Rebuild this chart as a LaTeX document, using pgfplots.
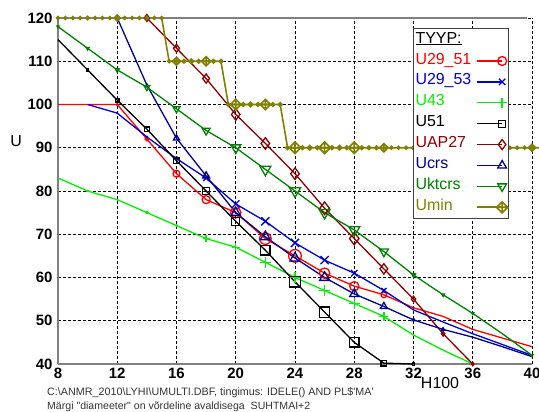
\documentclass[border=0pt]{standalone}
\usepackage{fontspec}
\setmainfont{Liberation Sans}
\newfontfamily\rawsans{Liberation Sans}
\usepackage{pgfplots}
\pgfplotsset{compat=1.18}
\usepackage{pgfplotstable}

\definecolor{cRed}{RGB}{255,0,0}
\definecolor{cBlue}{RGB}{0,0,210}
\definecolor{cLime}{RGB}{0,240,0}
\definecolor{cBlack}{RGB}{0,0,0}
\definecolor{cMaroon}{RGB}{140,0,0}
\definecolor{cNavy}{RGB}{0,0,140}
\definecolor{cGreen}{RGB}{0,128,0}
\definecolor{cOlive}{RGB}{128,128,0}

% diamond with a cross inside
\pgfdeclareplotmark{dcross}{%
  \pgfpathmoveto{\pgfqpoint{\pgfplotmarksize}{0pt}}%
  \pgfpathlineto{\pgfqpoint{0pt}{\pgfplotmarksize}}%
  \pgfpathlineto{\pgfqpoint{-\pgfplotmarksize}{0pt}}%
  \pgfpathlineto{\pgfqpoint{0pt}{-\pgfplotmarksize}}%
  \pgfpathclose
  \pgfpathmoveto{\pgfqpoint{-\pgfplotmarksize}{0pt}}%
  \pgfpathlineto{\pgfqpoint{\pgfplotmarksize}{0pt}}%
  \pgfpathmoveto{\pgfqpoint{0pt}{-\pgfplotmarksize}}%
  \pgfpathlineto{\pgfqpoint{0pt}{\pgfplotmarksize}}%
  \pgfusepathqstroke
}

% x = H100, y = U, s = marker radius (bp)
\pgfplotstableread{
x y s
8 100 0
10 100 0
12 100 0.8
14 92 1.5
16 84 3
18 78 3.5
20 75 4.5
22 69 5
24 65 5.5
26 61 4.5
28 58 4
30 56 2.5
32 53 0
34 51 0
36 48 0
38 46 0
40 44 0
}\tUtwoNineFiveOne

\pgfplotstableread{
x y s
10 100 0
12 98 0.8
14 92.5 1
16 87.5 2
18 83 3.5
20 77 4.5
22 73 5
24 68 5
26 64 5
28 61 4
30 57 3
32 52.5 0
34 49.7 0
36 47 0
38 44.5 0
40 42 0
}\tUtwoNineFiveThree

\pgfplotstableread{
x y s
8 83 0
10 80 1
12 78 1
14 75 1.5
16 72 1.5
18 69 3
20 67 3.5
22 63.5 4.5
24 60 5
26 57 5
28 54 5
30 51 4
32 46.7 0
34 43.2 0
36 40 0
}\tUfourThree

\pgfplotstableread{
x y s
8 115 0
10 108 1
12 101 1.5
14 94.3 2
16 87 2.5
18 80 3
20 73 3.5
22 66.3 4
24 59 4.5
26 52 4.5
28 45 4
30 40.2 2.5
32 40 1
}\tUfiveOne

\pgfplotstableread{
x y s
14 120 3
16 113 3.5
18 106 4
20 97.7 5
22 91 5
24 84 5
26 76 5.5
28 69 5.5
30 62 4.5
32 55 2.5
34 47 2
36 40 1.5
}\tUAP

\pgfplotstableread{
x y s
12 120 0.5
14 104.5 1
16 92.2 3
18 83.5 3.5
20 75 4.5
22 69.4 5
24 64.5 5
26 60 5
28 56.2 4.5
30 53.3 3.5
32 50.2 1.5
34 48 1.5
36 46.2 0
38 44 0
40 41.7 0
}\tUcrs

\pgfplotstableread{
x y s
8 118 1
10 113 1.5
12 108 2
14 104 3
16 99 3.5
18 94 4
20 90 5
22 85 5.5
24 80 5.5
26 75 5.5
28 71 5.5
30 66 4.5
32 60.6 2
34 56 1.5
36 51.7 1
38 47 0
40 42 1
}\tUktcrs

\pgfplotstableread{
x y s
8 120 1.2
8.5 120 1.2
9 120 1.2
9.5 120 1.2
10 120 1.5
10.5 120 1.2
11 120 1.2
11.5 120 1.2
12 120 2.5
12.5 120 1.2
13 120 1.2
13.5 120 1.2
14 120 1.5
14.5 120 1.2
15 120 1.2
15.5 110 1.2
16 110 3.5
16.5 110 1.5
17 110 2
17.5 110 1.5
18 110 4
18.5 110 1.5
19 110 1.5
19.5 100 1.5
20 100 4.5
20.5 100 1.5
21 100 2
21.5 100 1.5
22 100 4.5
22.5 100 1.5
23 100 1.5
23.5 90 1.5
24 90 5
24.5 90 1.5
25 90 2
25.5 90 1.5
26 90 5
26.5 90 1.5
27 90 2
27.5 90 1.5
28 90 5
28.5 90 1.5
29 90 1.5
29.5 90 1.5
30 90 3.5
30.5 90 1.2
31 90 1.2
31.5 90 1.2
32 90 1.5
32.5 90 1.2
33 90 1.2
33.5 90 1.2
34 90 1.2
34.5 90 1.2
35 90 1.2
35.5 90 1.2
36 90 1.2
36.5 90 1.2
37 90 1.2
37.5 90 1.2
38 90 1.2
38.5 90 1.2
39 90 1.2
39.5 90 1.2
40 90 3
40.5 90 0
}\tUmin

% line with per-point marker radius taken from column s
\pgfplotsset{
  sized/.style={
    forget plot, scatter, point meta=\thisrow{s},
    visualization depends on={1.15*\thisrow{s}\as\msz},
    scatter/use mapped color={draw=#1, fill=#1},
    scatter/@pre marker code/.append style={/tikz/mark size=\msz bp},
    draw=#1, line width=1.3bp,
  },
}

\begin{document}
\begin{tikzpicture}
\path[use as bounding box] (0,0) rectangle (539bp,412bp);
\begin{axis}[
  at={(58bp,48bp)}, anchor=south west,
  scale only axis, width=474bp, height=346bp,
  xmin=8, xmax=40, ymin=40, ymax=120,
  xtick={8,12,...,40}, ytick={40,50,...,120},
  grid=major,
  grid style={black, line width=0.7bp, dash pattern=on 2.5bp off 2.5bp},
  axis x line*=bottom, axis y line*=left,
  axis line style={draw=black!50, line width=1.6bp, -},
  major tick length=0pt,
  clip=false,
  /pgf/number format/assume math mode=true,
  ticklabel style={font=\bfseries\fontsize{15}{15}\selectfont},
  xticklabel style={yshift=-1bp},
  yticklabel style={xshift=-2bp},
  xlabel={H100},
  xlabel style={at={(axis description cs:0.806,-0.055)}, anchor=center, font=\fontsize{16}{16}\selectfont},
  ylabel={U},
  ylabel style={at={(axis description cs:-0.0886,0.645)}, anchor=center, rotate=-90, font=\fontsize{16}{16}\selectfont},
  legend plot pos=right,
  legend cell align=left,
  legend image code/.code={%
    \draw[mark repeat=2,mark phase=2,#1] plot coordinates {(0bp,0bp) (25bp,0bp)};},
  legend style={at={(axis description cs:0.952,0.971)}, anchor=north east,
    draw=black!75, line width=1.2bp, fill=white,
    font=\fontsize{16}{18}\selectfont, row sep=0pt,
    inner xsep=1bp, inner ysep=1bp,
    nodes={inner sep=1bp, text height=12.5bp, text depth=6.4bp},
    /tikz/every odd column/.append style={column sep=4bp},
    /tikz/every even column/.append style={column sep=0pt}},
]
\addlegendimage{empty legend}\addlegendentry{\underline{TYYP:}}
\addlegendimage{cRed, line width=1.3bp, mark=o, mark size=4.5bp}\addlegendentry{\textcolor{cRed}{U29\_51}}
\addlegendimage{cBlue, line width=1.3bp, mark=x, mark size=4.5bp}\addlegendentry{\textcolor{cBlue}{U29\_53}}
\addlegendimage{cLime, line width=1.3bp, mark=+, mark size=5bp}\addlegendentry{\textcolor{cLime}{U43}}
\addlegendimage{cBlack, line width=1.3bp, mark=square, mark size=3.5bp}\addlegendentry{\textcolor{cBlack}{U51}}
\addlegendimage{cMaroon, line width=1.3bp, mark=diamond, mark size=5bp}\addlegendentry{\textcolor{cMaroon}{UAP27}}
\addlegendimage{cNavy, line width=1.3bp, mark=triangle, mark size=5bp}\addlegendentry{\textcolor{cNavy}{Ucrs}}
\addlegendimage{cGreen, line width=1.3bp, mark=triangle, mark size=5bp, mark options={rotate=180}}\addlegendentry{\textcolor{cGreen}{Uktcrs}}
\addlegendimage{cOlive, line width=1.6bp, mark=dcross, mark size=5.5bp}\addlegendentry{\textcolor{cOlive}{Umin}}

\addplot[sized=cRed, mark=o] table[x=x,y=y] {\tUtwoNineFiveOne};
\addplot[sized=cBlue, mark=x] table[x=x,y=y] {\tUtwoNineFiveThree};
\addplot[sized=cLime, mark=+] table[x=x,y=y] {\tUfourThree};
\addplot[sized=cBlack, mark=square] table[x=x,y=y] {\tUfiveOne};
\addplot[sized=cMaroon, mark=diamond] table[x=x,y=y] {\tUAP};
\addplot[sized=cNavy, mark=triangle] table[x=x,y=y] {\tUcrs};
\addplot[sized=cGreen, mark=triangle, mark options={rotate=180}] table[x=x,y=y] {\tUktcrs};
\addplot[sized=cOlive, mark=dcross, line width=1.6bp] table[x=x,y=y] {\tUmin};

\draw[black!50, line width=1.6bp] (rel axis cs:0,1) -- (rel axis cs:0.99,1);
\end{axis}
\node[anchor=base west, inner sep=0, text=black!80, font=\rawsans\fontsize{10.8}{11}\selectfont]
  at (47bp,17bp) {C:\textbackslash ANMR\_2010\textbackslash LYHI\textbackslash UMULTI.DBF, tingimus: IDELE() AND PL\$'MA'};
\node[anchor=base west, inner sep=0, text=black!80, font=\rawsans\fontsize{10.6}{11}\selectfont]
  at (47bp,2.5bp) {Märgi "diameeter" on võrdeline avaldisega\ \ SUHTMAI+2};
\end{tikzpicture}
\end{document}
